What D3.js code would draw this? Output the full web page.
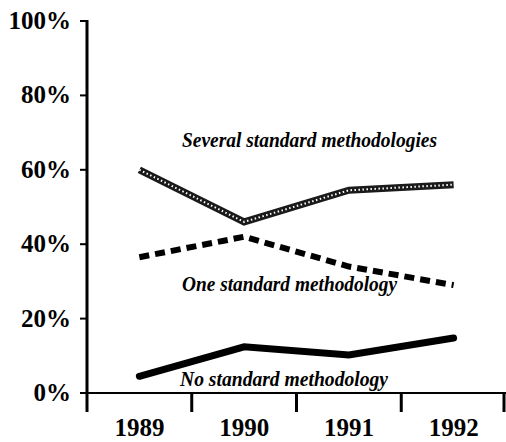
<!DOCTYPE html>
<html>
<head>
<meta charset="utf-8">
<script src="https://cdn.jsdelivr.net/npm/d3@7"></script>
<style>
  body { margin: 0; background: #fff; }
  text { font-family: "Liberation Serif", "Times New Roman", serif; font-weight: bold; }
</style>
</head>
<body>
<svg width="506" height="442"></svg>
<script>
var years = ['1989', '1990', '1991', '1992'];
var yTicks = [0, 20, 40, 60, 80, 100];
var several = [60, 46, 54.5, 56];
var one = [36.5, 42, 34, 29];
var none = [4.5, 12.4, 10.2, 14.8];
var labels = ['Several standard methodologies', 'One standard methodology', 'No standard methodology'];

var svg = d3.select('svg');

var x = d3.scaleBand().domain(years).range([87, 506]);
var y = d3.scaleLinear().domain([0, 100]).range([393, 21]);

var line = d3.line()
  .x(function(d, i) { return x(years[i]) + x.bandwidth() / 2; })
  .y(function(d) { return y(d); });

// axes
svg.append('line')
  .attr('x1', 87).attr('x2', 87).attr('y1', y(100) - 1).attr('y2', 412)
  .attr('stroke', '#000').attr('stroke-width', 3);
svg.append('line')
  .attr('x1', 87).attr('x2', 506).attr('y1', y(0)).attr('y2', y(0))
  .attr('stroke', '#000').attr('stroke-width', 2);

svg.append('g').selectAll('line')
  .data(yTicks)
  .enter().append('line')
  .attr('x1', 80).attr('x2', 87)
  .attr('y1', function(d) { return y(d); })
  .attr('y2', function(d) { return y(d); })
  .attr('stroke', '#000').attr('stroke-width', 2);

svg.append('g').selectAll('text')
  .data(yTicks)
  .enter().append('text')
  .attr('x', 71)
  .attr('y', function(d) { return y(d) + 8; })
  .attr('text-anchor', 'end')
  .attr('font-size', 25)
  .text(function(d) { return d + '%'; });

svg.append('g').selectAll('line')
  .data(years.slice(1).concat(['end']))
  .enter().append('line')
  .attr('x1', function(d) { return d === 'end' ? 504 : x(d); })
  .attr('x2', function(d) { return d === 'end' ? 504 : x(d); })
  .attr('y1', y(0)).attr('y2', 412)
  .attr('stroke', '#000').attr('stroke-width', 3);

svg.append('g').selectAll('text')
  .data(years)
  .enter().append('text')
  .attr('x', function(d) { return x(d) + x.bandwidth() / 2; })
  .attr('y', 436)
  .attr('text-anchor', 'middle')
  .attr('font-size', 25)
  .text(function(d) { return d; });

// series
svg.append('path')
  .attr('d', line(several))
  .attr('fill', 'none')
  .attr('stroke', '#1a1a1a').attr('stroke-width', 7);
svg.append('path')
  .attr('d', line(several))
  .attr('fill', 'none')
  .attr('stroke', '#fff').attr('stroke-width', 2)
  .attr('stroke-dasharray', '1.5,2.5');

svg.append('path')
  .attr('d', line(one))
  .attr('fill', 'none')
  .attr('stroke', '#000').attr('stroke-width', 6)
  .attr('stroke-dasharray', '10,6');

svg.append('path')
  .attr('d', line(none))
  .attr('fill', 'none')
  .attr('stroke', '#000').attr('stroke-width', 7)
  .attr('stroke-linecap', 'round');

// series labels
var labelPos = [[182, 147, 255], [182, 291, 215], [180, 386, 208]];
svg.append('g').selectAll('text')
  .data(labels)
  .enter().append('text')
  .attr('x', function(d, i) { return labelPos[i][0]; })
  .attr('y', function(d, i) { return labelPos[i][1]; })
  .attr('textLength', function(d, i) { return labelPos[i][2]; })
  .attr('lengthAdjust', 'spacingAndGlyphs')
  .attr('font-size', 21)
  .attr('font-style', 'italic')
  .text(function(d) { return d; });
</script>
</body>
</html>
